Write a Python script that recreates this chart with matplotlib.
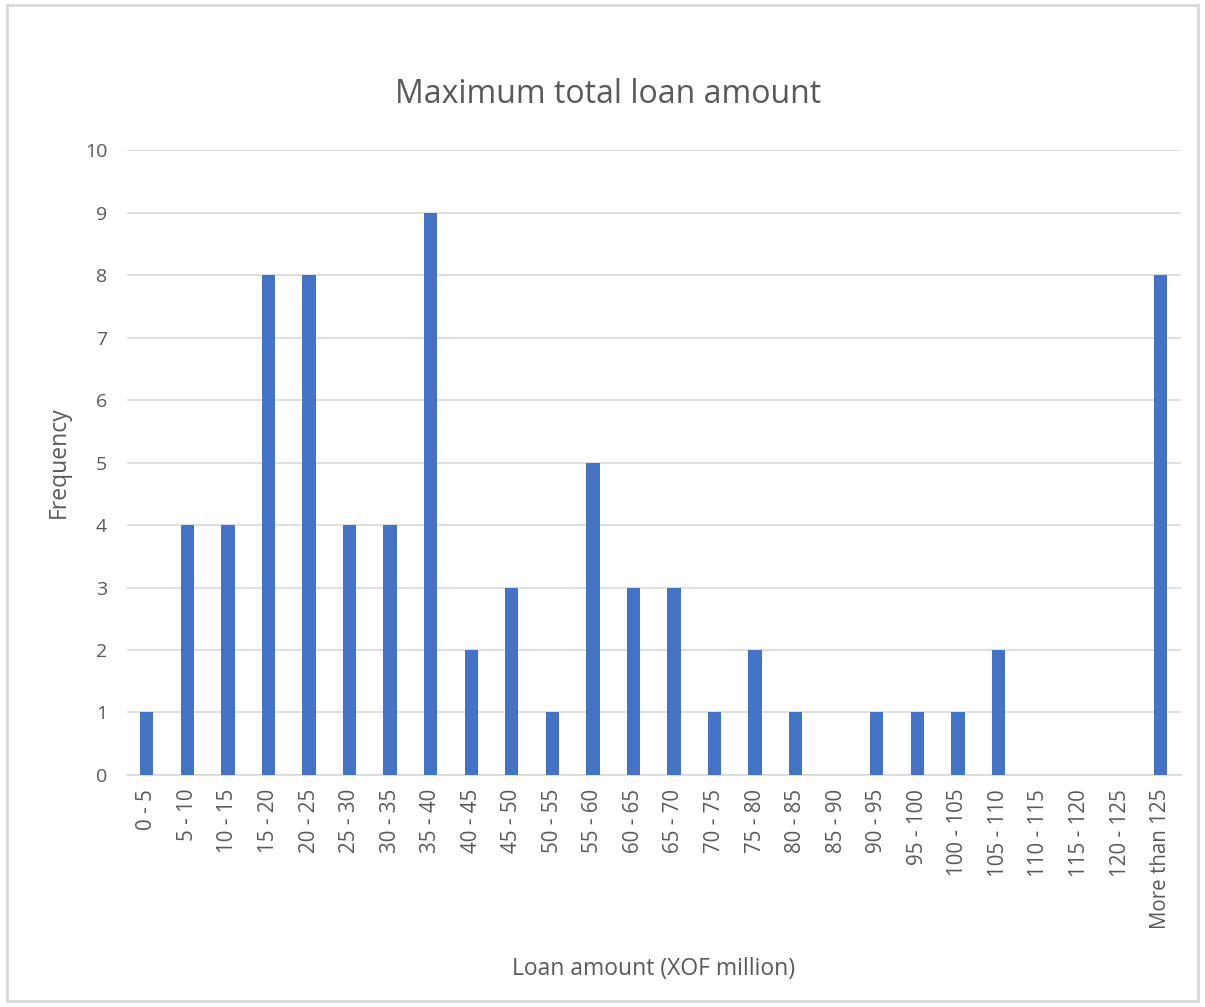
import matplotlib.pyplot as plt
import numpy as np
from matplotlib.patches import Rectangle

plt.rcParams['font.family'] = ['Open Sans', 'DejaVu Sans']

# data
bins = ['0 - 5', '5 - 10', '10 - 15', '15 - 20', '20 - 25', '25 - 30', '30 - 35',
        '35 - 40', '40 - 45', '45 - 50', '50 - 55', '55 - 60', '60 - 65', '65 - 70',
        '70 - 75', '75 - 80', '80 - 85', '85 - 90', '90 - 95', '95 - 100',
        '100 - 105', '105 - 110', '110 - 115', '115 - 120', '120 - 125', 'More than 125']
freq = [1, 4, 4, 8, 8, 4, 4, 9, 2, 3, 1, 5, 3, 3, 1, 2, 1, 0, 1, 1, 1, 2, 0, 0, 0, 8]
yticks = list(range(0, 11))

fig = plt.figure(figsize=(12.05, 10.07), dpi=100)
ax = fig.add_axes([0.105, 0.2304, 0.875, 0.6206])

# outer chart border
fig.patches.append(Rectangle((0.006, 0.006), 0.988, 0.989, transform=fig.transFigure,
                             fill=False, edgecolor='#d9d9d9', linewidth=2))

x = np.arange(len(bins))
ax.bar(x, freq, width=0.33, color='#4472c4', zorder=3)

ax.set_xlim(-0.5, len(bins) - 0.5)
ax.set_ylim(0, 10)
ax.set_yticks(yticks)
ax.yaxis.grid(True, color='#d9d9d9', linewidth=1.2)
ax.set_axisbelow(True)
for s in ['top', 'right', 'left']:
    ax.spines[s].set_visible(False)
ax.spines['bottom'].set_color('#d9d9d9')
ax.spines['bottom'].set_linewidth(1.2)
ax.tick_params(length=0, colors='#595959', labelsize=14)
ax.tick_params(axis='x', labelsize=14.8, pad=10)
ax.tick_params(axis='y', pad=14)
ax.set_xticks(x)
ax.set_xticklabels(bins, rotation=90)

fig.text(0.505, 0.906, 'Maximum total loan amount', fontsize=23, color='#595959',
         ha='center', va='center')
ax.set_xlabel('Loan amount (XOF million)', fontsize=16.5, color='#595959', labelpad=20)
ax.set_ylabel('Frequency', fontsize=16.5, color='#595959', labelpad=10)

plt.savefig('out.png', dpi=100)
